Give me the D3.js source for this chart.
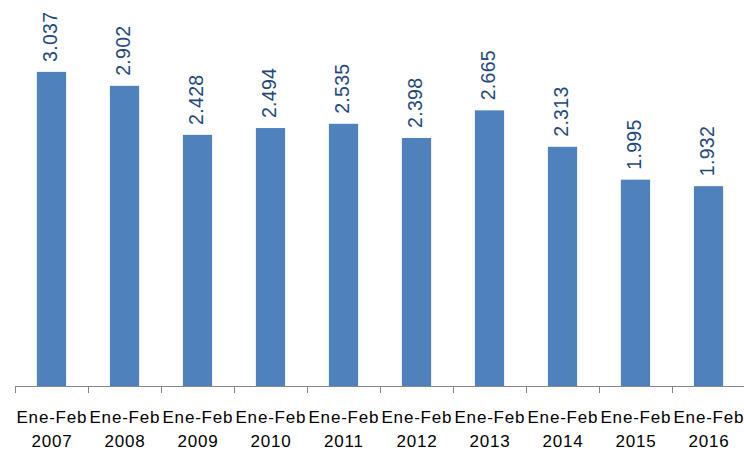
<!DOCTYPE html>
<html lang="es">
<head>
<meta charset="UTF-8">
<title>Ene-Feb</title>
<script src="https://d3js.org/d3.v7.min.js"></script>
<style>
    body { margin: 0; background: #fff; }
    svg { display: block; font-family: "Liberation Sans", Arial, sans-serif; }
</style>
</head>
<body>
<svg id="chart"></svg>
<script>
    const width = 744, height = 451;

    const periods = ["Ene-Feb", "Ene-Feb", "Ene-Feb", "Ene-Feb", "Ene-Feb", "Ene-Feb", "Ene-Feb", "Ene-Feb", "Ene-Feb", "Ene-Feb"];
    const years = ["2007", "2008", "2009", "2010", "2011", "2012", "2013", "2014", "2015", "2016"];
    const values = [3.037, 2.902, 2.428, 2.494, 2.535, 2.398, 2.665, 2.313, 1.995, 1.932];

    const baseY = 386;

    const svg = d3.select("#chart")
        .attr("width", width)
        .attr("height", height);

    const x = d3.scaleBand()
        .domain(years)
        .range([15, 745])
        .paddingInner(0.6)
        .paddingOuter(0.3);

    const y = d3.scaleLinear()
        .domain([0, 3.5])
        .range([baseY, 24]);

    // bars
    svg.selectAll(".bar")
        .data(values)
        .join("rect")
        .attr("class", "bar")
        .attr("x", (d, i) => x(years[i]))
        .attr("y", d => y(d))
        .attr("width", x.bandwidth())
        .attr("height", d => baseY - y(d))
        .attr("fill", "#4f81bd");

    // value labels, rotated
    svg.selectAll(".val")
        .data(values)
        .join("text")
        .attr("class", "val")
        .attr("transform", (d, i) => `translate(${x(years[i]) + x.bandwidth() / 2 + 5},${y(d) - 10}) rotate(-90)`)
        .attr("text-anchor", "start")
        .style("font-size", "19.5px")
        .style("letter-spacing", "0.3px")
        .attr("fill", "#1f497d")
        .text(d => d3.format(".3f")(d));

    // axis line and ticks between categories
    const step = x.step();
    const start = x.range()[0];
    svg.append("line")
        .attr("x1", start).attr("x2", width)
        .attr("y1", baseY + 0.5).attr("y2", baseY + 0.5)
        .attr("stroke", "#868686");

    svg.selectAll(".tick")
        .data(d3.range(years.length))
        .join("line")
        .attr("class", "tick")
        .attr("x1", i => Math.round(start + i * step) + 0.5)
        .attr("x2", i => Math.round(start + i * step) + 0.5)
        .attr("y1", baseY)
        .attr("y2", baseY + 7)
        .attr("stroke", "#868686");

    // category labels
    const labels = svg.selectAll(".cat")
        .data(years)
        .join("text")
        .attr("class", "cat")
        .attr("text-anchor", "middle")
        .style("font-size", "17px")
        .style("letter-spacing", "0.8px")
        .attr("fill", "#000");

    labels.append("tspan")
        .attr("x", d => x(d) + x.bandwidth() / 2 + 0.4)
        .attr("y", 423)
        .text((d, i) => periods[i]);

    labels.append("tspan")
        .attr("x", d => x(d) + x.bandwidth() / 2 + 0.4)
        .attr("y", 447)
        .text(d => d);
</script>
</body>
</html>
